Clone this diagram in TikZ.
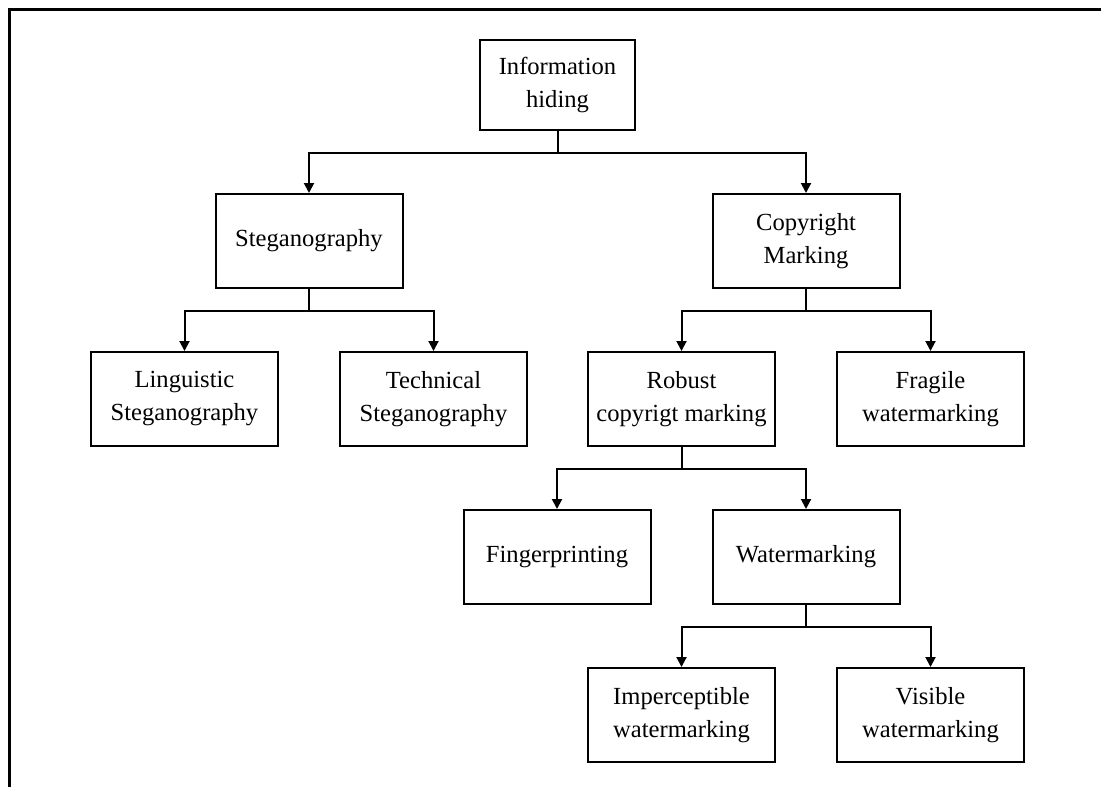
\documentclass[tikz,border=0pt]{standalone}
\usepackage{fontspec}
\setmainfont{Liberation Serif}
\usetikzlibrary{arrows.meta, positioning}
\tikzset{
    hierarchy/.style={>={Triangle[width=5pt,length=5pt]}, line width=1pt, font=\fontsize{12.3}{16.5}\selectfont, node distance=31pt},
    box/.style={draw, minimum width=93.5pt, minimum height=47pt, align=center, inner sep=2pt},
    rootbox/.style={box, minimum width=77.5pt, minimum height=45pt},
    frameline/.style={line width=1.5pt},
    % drop from the parent to the bar, then across and down into the child
    drop/.style={->},
}

\begin{document}
\begin{tikzpicture}[hierarchy]
        \useasboundingbox (0,0) rectangle (550.5pt,-393.5pt);

        % open frame, top and left only
        \coordinate (fr) at (550.5pt,-4.5pt);
        \coordinate (fc) at (4.5pt,-4.5pt);
        \coordinate (fb) at (4.5pt,-393.5pt);
        \draw[frameline] (fr) -- (fc) -- (fb);

        \node[rootbox] (info) at (278.75pt,-42.5pt) {Information\\hiding};
        \node[box, below=of info, xshift=-124.25pt] (steg)   {Steganography};
        \node[box, below=of info, xshift=124.25pt]  (copy)   {Copyright\\Marking};
        \node[box, below=of steg, xshift=-62.25pt]  (ling)   {Linguistic\\Steganography};
        \node[box, below=of steg, xshift=62.25pt]   (tech)   {Technical\\Steganography};
        \node[box, below=of copy, xshift=-62.25pt]  (robust) {Robust\\copyrigt marking};
        \node[box, below=of copy, xshift=62.25pt]   (fragile){Fragile\\watermarking};
        \node[box, below=of robust, xshift=-62.25pt](finger) {Fingerprinting};
        \node[box, below=of robust, xshift=62.25pt] (water)  {Watermarking};
        \node[box, below=of water, xshift=-62.25pt] (imperc) {Imperceptible\\watermarking};
        \node[box, below=of water, xshift=62.25pt]  (visible){Visible\\watermarking};

        \draw[drop] (info.south) -- ++(0,-11pt) -| (steg.north);
        \draw[drop] (info.south) -- ++(0,-11pt) -| (copy.north);
        \draw[drop] (steg.south) -- ++(0,-11pt) -| (ling.north);
        \draw[drop] (steg.south) -- ++(0,-11pt) -| (tech.north);
        \draw[drop] (copy.south) -- ++(0,-11pt) -| (robust.north);
        \draw[drop] (copy.south) -- ++(0,-11pt) -| (fragile.north);
        \draw[drop] (robust.south) -- ++(0,-11pt) -| (finger.north);
        \draw[drop] (robust.south) -- ++(0,-11pt) -| (water.north);
        \draw[drop] (water.south) -- ++(0,-11pt) -| (imperc.north);
        \draw[drop] (water.south) -- ++(0,-11pt) -| (visible.north);
    \end{tikzpicture}
\end{document}
